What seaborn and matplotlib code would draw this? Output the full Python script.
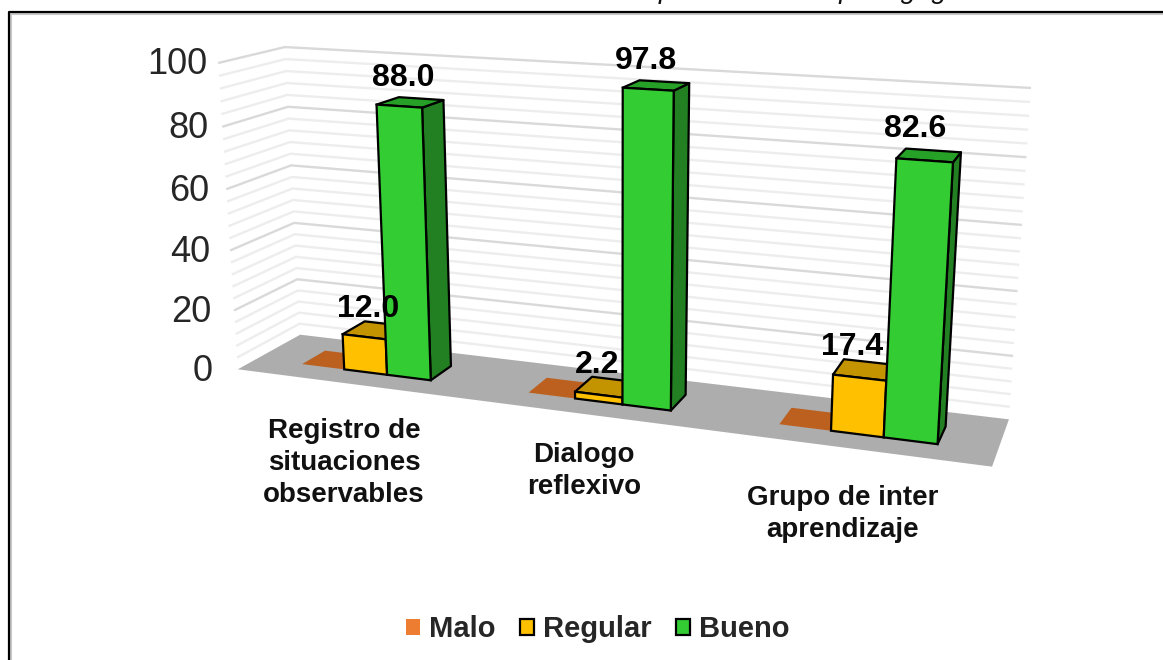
import numpy as np
import pandas as pd
import seaborn as sns
import matplotlib
matplotlib.use("Agg")
import matplotlib.pyplot as plt
from matplotlib.patches import Patch, Polygon
from matplotlib.transforms import Affine2D, Transform

categories = ["Registro de\nsituaciones\nobservables", "Dialogo\nreflexivo", "Grupo de inter\naprendizaje"]
series = ["Malo", "Regular", "Bueno"]
malo = [0.0, 0.0, 0.0]
regular = [12.0, 2.2, 17.4]
bueno = [88.0, 97.8, 82.6]
value_labels = ["", "12.0", "88.0", "", "2.2", "97.8", "", "17.4", "82.6"]
y_ticks = [0, 20, 40, 60, 80, 100]
# cut off at the top of the picture: only "para ... pedagógica" can be made out, the rest is a guess
cropped_title = "Incidencia de la reflexión en las herramientas de para mentoría pedagógica"

front_colors = ["#ED7D31", "#FFC000", "#33CC33"]
top_colors = ["#BC6020", "#C49400", "#26A026"]
side_colors = ["#BC6020", "#A88000", "#228022"]

W, H = 1163, 660
D_FRONT, D_BACK = 0.30, 0.68

# corners of the plot box (c, value, depth) -> picture pixels
box_3d = [(0, 0, 0), (0, 0, 1), (1, 0, 0), (1, 0, 1), (0, 100, 0), (0, 100, 1), (1, 100, 1)]
box_px = [(238, 369), (300, 335), (992, 467), (1009, 419), (218, 63), (285, 47), (1031, 88)]


def fit_camera(pts3d, pts2d):
    rows = []
    for (c, v, d), (u, w) in zip(pts3d, pts2d):
        p = [c, v / 100, d, 1]
        rows.append(p + [0, 0, 0, 0] + [-u * a for a in p])
        rows.append([0, 0, 0, 0] + p + [-w * a for a in p])
    return np.linalg.svd(np.array(rows, dtype=float))[2][-1].reshape(3, 4)


CAM = fit_camera(box_3d, box_px)


def project(c, v, d):
    c, v, d = np.broadcast_arrays(np.asarray(c, float), np.asarray(v, float), np.asarray(d, float))
    p = np.stack([c, v / 100, d, np.ones_like(c)])
    q = CAM @ p.reshape(4, -1)
    return np.column_stack([q[0] / q[2], q[1] / q[2]])


def x_to_c(x):
    return (np.asarray(x, float) + 0.5) / len(categories)


class FrontFace(Transform):
    # barplot data (x, value) on a given depth -> display pixels
    input_dims = 2
    output_dims = 2
    is_separable = False

    def __init__(self, bar_depth):
        super().__init__()
        self.bar_depth = bar_depth

    def transform_non_affine(self, xy):
        xy = np.asarray(xy, float)
        px = project(x_to_c(xy[:, 0]), xy[:, 1], self.bar_depth)
        return np.column_stack([px[:, 0], H - px[:, 1]])


df = pd.DataFrame({
    "category": categories * 3,
    "serie": [s for s in series for _ in categories],
    "value": malo + regular + bueno,
})

sns.set_theme(style="white")
plt.rcParams["font.family"] = ["Liberation Sans", "DejaVu Sans"]

fig = plt.figure(figsize=(W / 100, H / 100), dpi=100)
ax = fig.add_axes([0, 0, 1, 1])
sns.barplot(data=df, x="category", y="value", hue="serie", hue_order=series, order=categories,
            palette=front_colors, saturation=1, width=0.58, gap=0, errorbar=None, legend=False, ax=ax)
ax.set_xlim(-0.5, 2.5)
ax.set_ylim(0, 100)
ax.axis("off")

pix = Affine2D().scale(1, -1).translate(0, H)


def add_face(pts, color, z, edge="black", lw=1.6):
    ax.add_patch(Polygon(pts, closed=True, facecolor=color, edgecolor=edge, linewidth=lw,
                         transform=pix, zorder=z, clip_on=False, joinstyle="round"))


# floor and grid lines on the two walls
add_face(project([0, 1, 1, 0], 0, [0, 0, 1, 1]), "#ADADAD", 1, edge="none", lw=0)
for v in range(4, 101, 4):
    major = v % 20 == 0
    line = project([0, 0, 1], v, [0, 1, 1])
    ax.plot(line[:, 0], line[:, 1], color="#D9D9D9" if major else "#EDEDED", lw=1.7, transform=pix,
            zorder=2 if major else 1.5, clip_on=False, solid_capstyle="butt")

# seaborn bars become the front faces, side and top faces come from the same numbers
for s_i, container in enumerate(ax.containers):
    for cat_i, bar in enumerate(container):
        x0, x1 = bar.get_x(), bar.get_x() + bar.get_width()
        val = bar.get_height()
        z = 3 + cat_i * 2 + s_i * 0.3
        c0, c1 = x_to_c(x0), x_to_c(x1)
        top = project([c0, c1, c1, c0], val, [D_FRONT, D_FRONT, D_BACK, D_BACK])
        if val == 0:
            add_face(top, top_colors[s_i], z, edge="none", lw=0)
            bar.set_visible(False)
            continue
        side = project([c1, c1, c1, c1], [0, val, val, 0], [D_FRONT, D_FRONT, D_BACK, D_BACK])
        add_face(side, side_colors[s_i], z)
        add_face(top, top_colors[s_i], z + 0.01)
        bar.set_transform(FrontFace(D_FRONT))
        bar.set_edgecolor("black")
        bar.set_linewidth(1.6)
        bar.set_zorder(z + 0.02)
        bar.set_clip_on(False)

# value labels, sitting above the top face
for cat_i in range(len(categories)):
    for s_i, container in enumerate(ax.containers):
        bar = container[cat_i]
        txt = value_labels[cat_i * 3 + s_i]
        if not txt:
            continue
        cx = x_to_c(bar.get_x() + bar.get_width() / 2)
        p = project(cx, bar.get_height(), D_BACK)[0]
        lift = 6 if s_i == 2 else 0
        ax.text(p[0] - 18, p[1] - lift, txt, transform=pix, ha="center", va="bottom", fontsize=23,
                fontweight="bold", color="black", zorder=20)

# value axis
for v in y_ticks:
    p = project(0, v, 0)[0]
    ax.text(213 - 0.06 * v, p[1] + 2, str(v), transform=pix, ha="right", va="center", fontsize=26,
            color="#262626", zorder=20)

# category labels
label_centers = [(344, 463), (584, 471), (843, 514)]
for name, (lx, ly) in zip(categories, label_centers):
    ax.text(lx, ly, name, transform=pix, ha="center", va="center", fontsize=20, fontweight="bold",
            linespacing=1.32, color="#111111", zorder=20)

handles = [
    Patch(facecolor=front_colors[0], edgecolor="none"),
    Patch(facecolor=front_colors[1], edgecolor="black", linewidth=1.6),
    Patch(facecolor=front_colors[2], edgecolor="black", linewidth=1.6),
]
fig.legend(handles, series, loc="center", bbox_to_anchor=(598 / W, 1 - 629 / H), ncol=3, frameon=False,
           prop={"weight": "bold", "size": 21}, handlelength=0.48, handleheight=0.48, handletextpad=0.3,
           columnspacing=0.85)

# outer frame of the pasted picture (no lower or right edge)
ax.plot([11, 11, W], [H, 14, 14], color="#C8C8C8", lw=1.5, transform=pix, zorder=29, clip_on=False)
ax.plot([9, 9, W], [H, 12, 12], color="black", lw=1.6, transform=pix, zorder=30, clip_on=False)
ax.text(57, -1.5, cropped_title, transform=pix, ha="left", va="baseline", fontsize=20, style="italic",
        color="#111111", zorder=30, clip_on=True)

fig.savefig("out.png", dpi=100)
